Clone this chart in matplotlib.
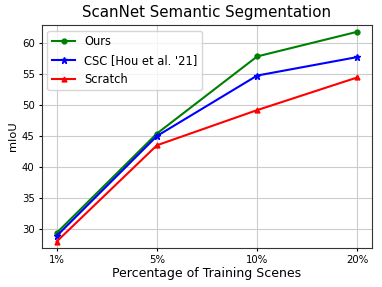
import matplotlib
matplotlib.use("Agg")
import matplotlib.pyplot as plt

# ---- data
labels = ["1%", "5%", "10%", "20%"]
ours = [29.3, 45.4, 57.9, 61.9]
csc = [28.8, 45.0, 54.8, 57.8]
scratch = [27.9, 43.5, 49.2, 54.5]

fig, ax = plt.subplots(figsize=(3.82, 2.87), dpi=100)
x = range(len(labels))

ax.plot(x, ours, color="green", marker="o", markersize=3.5, linewidth=1.5, label="Ours")
ax.plot(x, csc, color="blue", marker="*", markersize=4.5, linewidth=1.5, label="CSC [Hou et al. '21]")
ax.plot(x, scratch, color="red", marker="^", markersize=3.5, linewidth=1.5, label="Scratch")

ax.set_xticks(list(x))
ax.set_xticklabels(labels)
ax.set_ylim(26.9, 63.0)
ax.tick_params(labelsize=7.3, length=2.5, pad=2.5)
ax.grid(True, color="#cccccc")
for s in ax.spines.values():
    s.set_color("#333333")
ax.set_title("ScanNet Semantic Segmentation", fontsize=10.8)
ax.set_xlabel("Percentage of Training Scenes", fontsize=9, labelpad=2)
ax.set_ylabel("mIoU", fontsize=8.2, labelpad=3)
ax.legend(loc="upper left", fontsize=8.3)

plt.subplots_adjust(left=0.109, right=0.975, top=0.913, bottom=0.137)
plt.savefig("out.png", dpi=100)
